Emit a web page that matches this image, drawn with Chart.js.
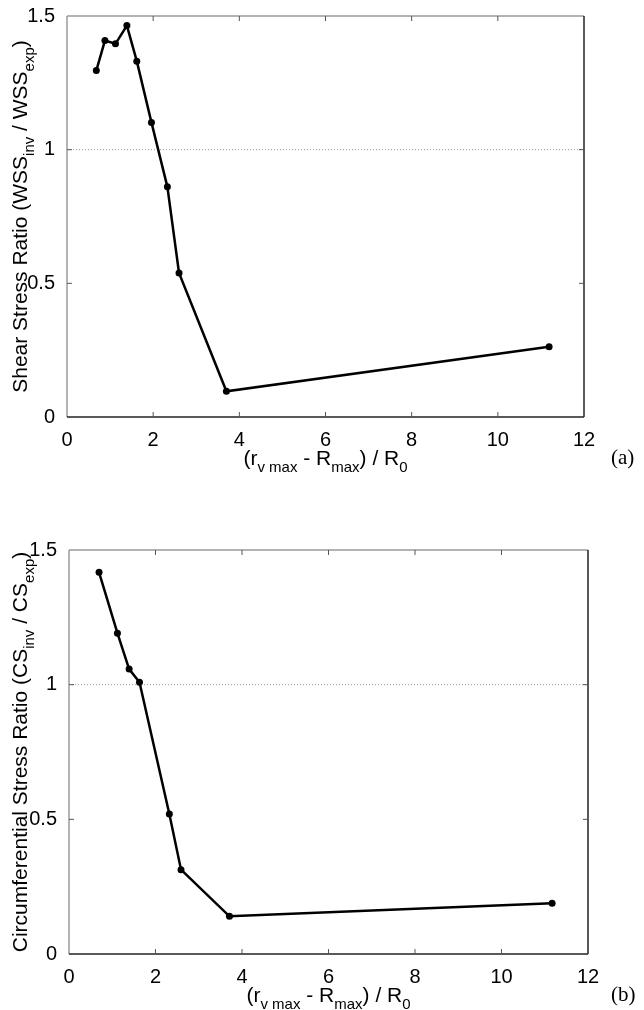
<!DOCTYPE html>
<html lang="en">
<head>
    <meta charset="UTF-8">
    <title>Stress Ratio vs distance</title>
    <script src="https://cdn.jsdelivr.net/npm/chart.js"></script>
    <style>
        body { margin: 0; background: #fff; }
        canvas { position: absolute; left: 0; }
    </style>
</head>
<body>
    <canvas id="chartA" width="644" height="505" style="top:0"></canvas>
    <canvas id="chartB" width="644" height="505" style="top:505px"></canvas>
    <script>
        // values
        const xA = [0.68, 0.88, 1.125, 1.39, 1.62, 1.96, 2.33, 2.60, 3.70, 11.19];
        const wssRatio = [1.296, 1.408, 1.396, 1.464, 1.331, 1.102, 0.861, 0.539, 0.096, 0.263];
        const xB = [0.695, 1.12, 1.39, 1.63, 2.32, 2.59, 3.71, 11.17];
        const csRatio = [1.417, 1.191, 1.058, 1.009, 0.520, 0.313, 0.140, 0.188];
        const refLevel = 1;
        const xTicks = [0, 2, 4, 6, 8, 10, 12];
        const yTicks = [0, 0.5, 1, 1.5];

        const FONT = '"Liberation Sans", Arial, sans-serif';

        // title pieces: [text, isSubscript]
        const xTitle = [['(r', 0], ['v max', 1], [' - R', 0], ['max', 1], [') / R', 0], ['0', 1]];
        const yTitleA = [['Shear Stress Ratio (WSS', 0], ['inv', 1], [' / WSS', 0], ['exp', 1], [')', 0]];
        const yTitleB = [['Circumferential Stress Ratio (CS', 0], ['inv', 1], [' / CS', 0], ['exp', 1], [')', 0]];

        function drawRich(ctx, parts, cx, baseY) {
            const fontFor = s => (s ? '15px ' : '21px ') + FONT;
            let total = 0;
            parts.forEach(([t, s]) => { ctx.font = fontFor(s); total += ctx.measureText(t).width; });
            let x = cx - total / 2;
            ctx.textAlign = 'left';
            ctx.textBaseline = 'alphabetic';
            parts.forEach(([t, s]) => {
                ctx.font = fontFor(s);
                ctx.fillText(t, x, baseY + (s ? 7 : 0));
                x += ctx.measureText(t).width;
            });
        }

        const framePlugin = {
            id: 'frame',
            afterDraw(chart, args, opts) {
                const { ctx, chartArea: a, scales: { x, y } } = chart;
                const seg = (x1, y1, x2, y2) => { ctx.beginPath(); ctx.moveTo(x1, y1); ctx.lineTo(x2, y2); ctx.stroke(); };
                ctx.save();
                ctx.lineWidth = 1.5;
                ctx.strokeStyle = '#9a9a9a';
                seg(a.left, a.top, a.right, a.top);
                seg(a.left, a.top, a.left, a.bottom);
                ctx.strokeStyle = '#222';
                seg(a.right, a.top, a.right, a.bottom);
                seg(a.left, a.bottom, a.right, a.bottom);

                // inner tick marks
                ctx.lineWidth = 1;
                ctx.strokeStyle = '#555';
                x.ticks.forEach(t => {
                    const px = x.getPixelForValue(t.value);
                    if (px <= a.left + 1 || px >= a.right - 1) return;
                    seg(px, a.bottom, px, a.bottom - 5);
                    seg(px, a.top, px, a.top + 5);
                });
                y.ticks.forEach(t => {
                    const py = y.getPixelForValue(t.value);
                    if (py <= a.top + 1 || py >= a.bottom - 1) return;
                    seg(a.left, py, a.left + 5, py);
                    seg(a.right, py, a.right - 5, py);
                });

                ctx.fillStyle = '#000';
                drawRich(ctx, xTitle, (a.left + a.right) / 2, a.bottom + 48);
                ctx.save();
                ctx.translate(27, (a.top + a.bottom) / 2);
                ctx.rotate(-Math.PI / 2);
                drawRich(ctx, opts.yTitle, 0, 0);
                ctx.restore();

                ctx.font = '21px "Liberation Serif", "Times New Roman", serif';
                ctx.textAlign = 'left';
                ctx.textBaseline = 'middle';
                ctx.fillText(opts.panel, 611, a.bottom + 41);
                ctx.restore();
            }
        };

        function makeChart(id, xs, ys, pad, yWidth, xHeight, yTitle, panel) {
            return new Chart(document.getElementById(id), {
                type: 'line',
                data: {
                    datasets: [
                        {
                            data: xs.map((v, i) => ({ x: v, y: ys[i] })),
                            borderColor: '#000',
                            backgroundColor: '#000',
                            borderWidth: 2.5,
                            pointRadius: 3.5,
                            pointBorderWidth: 0,
                            tension: 0
                        },
                        {
                            data: [{ x: xTicks[0], y: refLevel }, { x: xTicks[xTicks.length - 1], y: refLevel }],
                            borderColor: '#9a9a9a',
                            borderWidth: 1,
                            borderDash: [1, 2],
                            pointRadius: 0
                        }
                    ]
                },
                options: {
                    responsive: false,
                    animation: false,
                    devicePixelRatio: 1,
                    layout: { padding: pad },
                    plugins: {
                        legend: { display: false },
                        tooltip: { enabled: false },
                        frame: { yTitle: yTitle, panel: panel }
                    },
                    scales: {
                        x: {
                            type: 'linear',
                            min: xTicks[0],
                            max: xTicks[xTicks.length - 1],
                            afterBuildTicks: s => { s.ticks = xTicks.map(v => ({ value: v })); },
                            afterFit: s => { s.height = xHeight; },
                            grid: { display: false },
                            border: { display: false },
                            ticks: { color: '#000', font: { family: FONT, size: 20 }, padding: 3, maxRotation: 0, callback: v => String(v) }
                        },
                        y: {
                            min: yTicks[0],
                            max: yTicks[yTicks.length - 1],
                            afterBuildTicks: s => { s.ticks = yTicks.map(v => ({ value: v })); },
                            afterFit: s => { s.width = yWidth; },
                            grid: { display: false },
                            border: { display: false },
                            ticks: { color: '#000', font: { family: FONT, size: 20 }, padding: 4, callback: v => String(v) }
                        }
                    }
                },
                plugins: [framePlugin]
            });
        }

        makeChart('chartA', xA, wssRatio, { top: 10, left: 0, right: 60, bottom: 0 }, 67, 88, yTitleA, '(a)');
        makeChart('chartB', xB, csRatio, { top: 45, left: 0, right: 56, bottom: 0 }, 69, 56, yTitleB, '(b)');
    </script>
</body>
</html>
